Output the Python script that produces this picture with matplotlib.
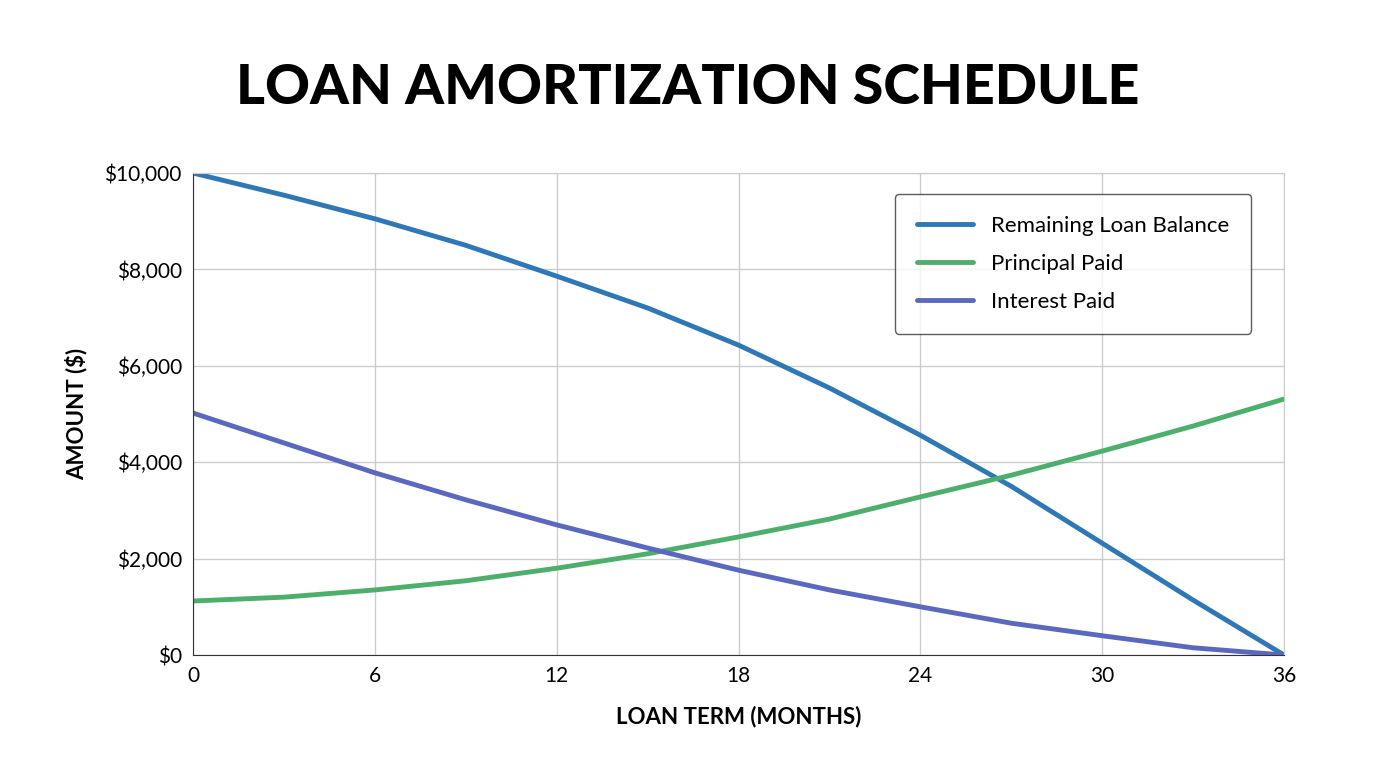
import matplotlib
matplotlib.use("Agg")
import matplotlib.pyplot as plt
from matplotlib.ticker import FuncFormatter

months = [0, 3, 6, 9, 12, 15, 18, 21, 24, 27, 30, 33, 36]
balance = [10000, 9540, 9050, 8500, 7860, 7200, 6430, 5540, 4560, 3500, 2320, 1140, 0]
principal = [1120, 1200, 1350, 1540, 1800, 2100, 2450, 2820, 3280, 3730, 4230, 4750, 5310]
interest = [5020, 4400, 3780, 3220, 2700, 2220, 1760, 1350, 1000, 660, 400, 150, 0]

plt.rcParams['font.family'] = ['Lato', 'DejaVu Sans']
fig = plt.figure(figsize=(13.76, 7.68), dpi=100)
ax = fig.add_axes([193/1376, 1-655/768, (1284-193)/1376, (655-173)/768])

ax.plot(months, balance, color='#2f78b7', lw=3.5, label='Remaining Loan Balance', solid_capstyle='round')
ax.plot(months, principal, color='#4daf6c', lw=3.5, label='Principal Paid', solid_capstyle='round')
ax.plot(months, interest, color='#5b68c0', lw=3.5, label='Interest Paid', solid_capstyle='round')

ax.set_xlim(0, 36)
ax.set_ylim(0, 10000)
ax.set_xticks(range(0, 37, 6))
ax.set_yticks(range(0, 10001, 2000))
ax.yaxis.set_major_formatter(FuncFormatter(lambda v, p: f"${int(v):,}"))
ax.grid(True, color='#cccccc', lw=1)
for s in ax.spines.values():
    s.set_color('#cccccc')
ax.spines['left'].set_color('#333333')
ax.spines['bottom'].set_color('#333333')
ax.tick_params(labelsize=15, length=0, pad=8)
ax.set_xlabel('LOAN TERM (MONTHS)', fontsize=16, fontweight='bold', labelpad=14)
ax.set_ylabel('AMOUNT ($)', fontsize=16, fontweight='bold', labelpad=12)
leg = ax.legend(loc='upper right', bbox_to_anchor=(0.98, 0.98), fontsize=16, frameon=True,
                fancybox=True, edgecolor='#333333', borderpad=1.0, labelspacing=0.8, handlelength=2.5)
leg.get_frame().set_linewidth(1)
fig.text(0.5, 1-88/768, 'LOAN AMORTIZATION SCHEDULE', ha='center', va='center',
         fontsize=40, fontweight='black')
fig.savefig('out.png', dpi=100, facecolor='white')
